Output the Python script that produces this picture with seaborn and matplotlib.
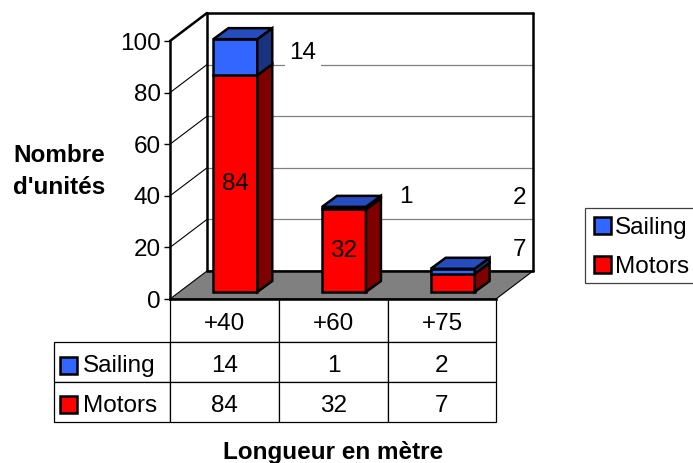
import seaborn as sns
import matplotlib.pyplot as plt
from matplotlib.patches import Polygon, Rectangle
from matplotlib.lines import Line2D
from matplotlib.transforms import Affine2D, IdentityTransform

categories = ["+40", "+60", "+75"]
sailing = [14, 1, 2]
motors = [84, 32, 7]
yticks = [0, 20, 40, 60, 80, 100]

W, H = 693, 463
BLUE, BLUE_SIDE, BLUE_TOP = "#3366FF", "#1A3380", "#264DBF"
RED, RED_SIDE = "#FF0000", "#800000"
FS = 17.5
LW = 1.8

sns.set_style("white")
plt.rcParams["font.family"] = ["Liberation Sans", "DejaVu Sans"]
plt.rcParams["text.color"] = "black"

fig = plt.figure(figsize=(W / 100, H / 100), dpi=100)
ax = fig.add_axes([170 / W, (H - 299) / H, 326 / W, 258 / H])

# pixels measured from the top left of the picture
px = Affine2D().scale(1, -1).translate(0, H)
# depth of the fake 3d box, the bars sit part way in it
wall_dx, wall_dy = 37, 28
shift_dx, shift_dy = 11, 7
bar_dx, bar_dy = 15, 11

sns.barplot(x=categories, y=motors, color=RED, saturation=1, width=44 / 109,
            edgecolor="black", linewidth=LW, zorder=4, ax=ax)
sns.barplot(x=categories, y=sailing, bottom=motors, color=BLUE, saturation=1,
            width=44 / 109, edgecolor="black", linewidth=LW, zorder=4, ax=ax)
bars = list(ax.patches)
ax.set_xlim(-0.5, 2.5)
ax.set_ylim(0, 100)
ax.set_yticks(yticks)
ax.set_xticks([])
ax.set_xlabel("")
ax.patch.set_alpha(0)
ax.tick_params(axis="y", left=True, length=4.5, width=1, pad=2, labelsize=FS, colors="black")
sns.despine(ax=ax, top=True, right=True, bottom=False)
for s in ["left", "bottom"]:
    ax.spines[s].set_linewidth(LW)
    ax.spines[s].set_color("black")
    ax.spines[s].set_zorder(3)


def wall_line(p0, p1, color="black", lw=LW, zorder=2):
    ax.add_line(Line2D([p0[0], p1[0]], [p0[1], p1[1]], color=color, lw=lw, zorder=zorder,
                       transform=IdentityTransform(), clip_on=False))


x0, x1 = ax.transData.transform((-0.5, 0))[0], ax.transData.transform((2.5, 0))[0]
y0 = ax.transData.transform((0, 0))[1]

# floor
ax.add_patch(Polygon([(x0, y0), (x0 + wall_dx, y0 + wall_dy), (x1 + wall_dx, y0 + wall_dy), (x1, y0)],
                     closed=True, facecolor="#808080", edgecolor="black", lw=0.8, zorder=1,
                     transform=IdentityTransform(), clip_on=False))

# gridlines go along the left wall and then the back wall
for v in yticks:
    y = ax.transData.transform((0, v))[1]
    if v > 0:
        wall_line((x0, y), (x0 + wall_dx, y + wall_dy), lw=0.8 if v < 100 else LW)
    if 0 < v < 100:
        wall_line((x0 + wall_dx, y + wall_dy), (x1 + wall_dx, y + wall_dy), color="#808080", lw=0.9)
ytop = ax.transData.transform((0, 100))[1]
wall_line((x0 + wall_dx, ytop + wall_dy), (x1 + wall_dx, ytop + wall_dy))
wall_line((x0 + wall_dx, y0 + wall_dy), (x1 + wall_dx, y0 + wall_dy))
wall_line((x0 + wall_dx, y0 + wall_dy), (x0 + wall_dx, ytop + wall_dy))
wall_line((x1 + wall_dx, y0 + wall_dy), (x1 + wall_dx, ytop + wall_dy))

# push the seaborn bars back into the box and give them a side and a top
n = len(categories)
shift = ax.transData + Affine2D().translate(shift_dx, shift_dy)
for i, bar in enumerate(bars):
    bar.set_transform(shift)
    bar.set_clip_on(False)
    a = shift.transform((bar.get_x(), bar.get_y()))
    b = shift.transform((bar.get_x() + bar.get_width(), bar.get_y() + bar.get_height()))
    is_sailing = i >= n
    side = Polygon([(b[0], a[1]), (b[0] + bar_dx, a[1] + bar_dy), (b[0] + bar_dx, b[1] + bar_dy), (b[0], b[1])],
                   closed=True, facecolor=BLUE_SIDE if is_sailing else RED_SIDE, edgecolor="black", lw=LW,
                   zorder=4, transform=IdentityTransform(), clip_on=False)
    ax.add_patch(side)
    if is_sailing:
        top = Polygon([(a[0], b[1]), (a[0] + bar_dx, b[1] + bar_dy), (b[0] + bar_dx, b[1] + bar_dy), (b[0], b[1])],
                      closed=True, facecolor=BLUE_TOP, edgecolor="black", lw=LW, zorder=4,
                      transform=IdentityTransform(), clip_on=False)
        ax.add_patch(top)

# labels on the bars
for i in range(2):
    ax.text(i, motors[i] / 2, str(motors[i]), transform=shift, ha="center", va="center",
            fontsize=FS, color="black", zorder=6)

# the other labels were dragged away from their bars
moved = [(str(sailing[0]), 303, 53), (str(sailing[1]), 406, 197), (str(sailing[2]), 519, 198), (str(motors[2]), 519, 250)]
for txt, tx, ty in moved:
    ax.text(tx, ty, txt, transform=px, ha="center", va="center", fontsize=FS, color="black", zorder=3,
            clip_on=False, bbox=dict(facecolor="white", edgecolor="none", pad=3.5))

# data table under the chart
cells = [["", *categories], ["Sailing", *map(str, sailing)], ["Motors", *map(str, motors)]]
col_w = [116 / 442, 109 / 442, 109 / 442, 108 / 442]
table = ax.table(cellText=cells, colWidths=col_w, cellLoc="center",
                 bbox=[(54 - 170) / 326, -(422 - 299) / 258, 442 / 326, 123 / 258])
table.auto_set_font_size(False)
table.set_fontsize(FS)
row_h = [43, 40, 40]
for (r, c), cell in table.get_celld().items():
    cell.set_height(row_h[r] / 123)
    cell.set_linewidth(0.9)
    cell.set_edgecolor("black")
    # table text sits a bit high otherwise
    cell.get_text().set_transform(Affine2D().translate(0, -4))
    if c == 0:
        cell.get_text().set_ha("left")
        cell.PAD = 0.25
cell00 = table[0, 0]
cell00.visible_edges = ""

# colour keys of the table
for ky, color in [(357, BLUE), (396, RED)]:
    ax.add_patch(Rectangle((60, ky), 17, 17, facecolor=color, edgecolor="black", lw=LW, zorder=6,
                           transform=px, clip_on=False))

# legend frame on its own, it runs off the right edge
ax.add_patch(Rectangle((585, 208), 120, 75, facecolor="white", edgecolor="#404040", lw=0.9, zorder=5,
                       transform=px, clip_on=False))
handles = [bars[n], bars[0]]
leg = ax.legend(handles, ["Sailing", "Motors"], loc="upper left", bbox_to_anchor=(585 / W, 1 - 208 / H),
                bbox_transform=fig.transFigure, borderaxespad=0, fontsize=FS, frameon=False,
                handlelength=0.7, handleheight=0.7, handletextpad=0.18,
                labelspacing=0.71, borderpad=0.37, labelcolor="black")
leg.set_zorder(6)

ax.set_ylabel("Nombre\nd'unités", rotation=0, fontsize=FS, fontweight="bold", ha="right", va="center",
              multialignment="right", color="black", linespacing=1.5)
ax.yaxis.set_label_coords((105 - 170) / 326, 1 - (171 - 41) / 258)
fig.text(333 / W, 1 - 452 / H, "Longueur en mètre", fontsize=FS, fontweight="bold", ha="center", va="center",
         color="black")

plt.savefig("out.png", dpi=100)
